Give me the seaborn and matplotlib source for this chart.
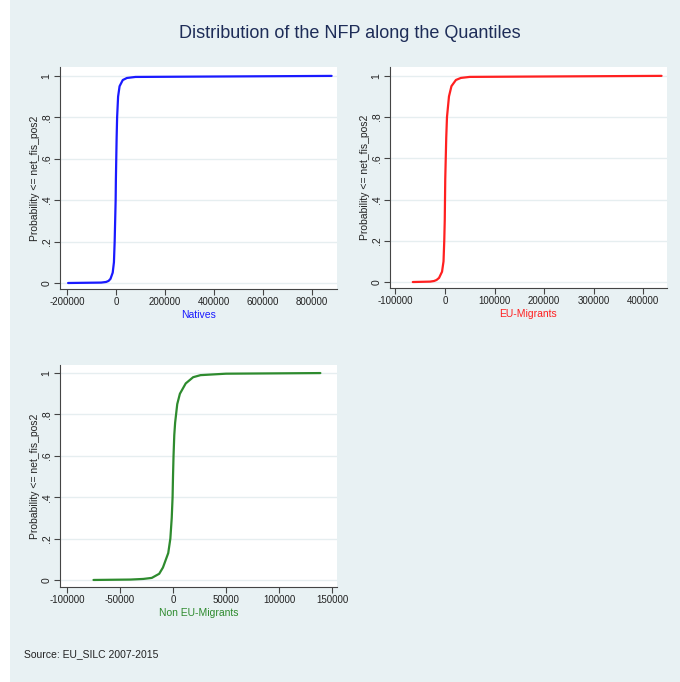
import numpy as np
import pandas as pd
import seaborn as sns
import matplotlib.pyplot as plt

# Cumulative probability levels and the net fiscal position at each level
natives_p = [0, 0.002, 0.005, 0.01, 0.02, 0.05, 0.1, 0.2, 0.3, 0.4, 0.5, 0.6, 0.7, 0.8, 0.9, 0.95,
             0.98, 0.99, 0.995, 1]
natives_x = [-195000, -60000, -40000, -30000, -22000, -13000, -8000, -5000, -3000, -1000, 0, 1500,
             3000, 5000, 9000, 15000, 28000, 45000, 80000, 880000]

eu_p = [0, 0.002, 0.005, 0.01, 0.02, 0.05, 0.1, 0.2, 0.3, 0.4, 0.5, 0.6, 0.7, 0.8, 0.9, 0.95,
        0.98, 0.99, 0.995, 1]
eu_x = [-65000, -30000, -22000, -17000, -12000, -6000, -3000, -1500, -500, 0, 500, 1500, 2500,
        4000, 8000, 13000, 22000, 32000, 50000, 437000]

noneu_p = [0, 0.002, 0.005, 0.01, 0.03, 0.06, 0.13, 0.2, 0.3, 0.4, 0.5, 0.6, 0.7, 0.76, 0.85, 0.9,
           0.95, 0.98, 0.99, 0.997, 1]
noneu_x = [-75000, -40000, -28000, -20000, -13000, -9500, -4500, -2500, -1200, -400, 0, 500, 1200,
           2000, 4000, 6500, 12000, 19000, 26000, 50000, 139000]

groups = ["Natives", "EU-Migrants", "Non EU-Migrants"]
colors = ["#1a1aff", "#ff2020", "#2e8b2e"]
xticks = [np.arange(-200000, 800001, 200000),
          np.arange(-100000, 400001, 100000),
          np.arange(-100000, 150001, 50000)]
xlims = [(-228000, 902000), (-111000, 448000), (-106600, 154700)]
ylims = [(-0.029, 1.043), (-0.029, 1.043), (-0.034, 1.039)]
yticks = [0, 0.2, 0.4, 0.6, 0.8, 1]
ytick_labels = ["0", ".2", ".4", ".6", ".8", "1"]

df = pd.concat([
    pd.DataFrame({"value": natives_x, "prob": natives_p, "group": "Natives"}),
    pd.DataFrame({"value": eu_x, "prob": eu_p, "group": "EU-Migrants"}),
    pd.DataFrame({"value": noneu_x, "prob": noneu_p, "group": "Non EU-Migrants"}),
])

sns.set_theme(style="white")
plt.rcParams['font.family'] = ['Liberation Sans', 'DejaVu Sans']

bg = "#e8f1f3"
fig = plt.figure(figsize=(6.8, 6.82), dpi=100, facecolor=bg)
# thin white strip on the left edge
fig.patches.append(plt.Rectangle((0, 0), 10 / 680, 1, transform=fig.transFigure,
                                 facecolor="white", edgecolor="none", zorder=0))

positions = [
    [60 / 680, 1 - 289 / 682, 277 / 680, 222 / 682],
    [390 / 680, 1 - 288 / 682, 277 / 680, 221 / 682],
    [60 / 680, 1 - 587 / 682, 277 / 680, 222 / 682],
]

for i, g in enumerate(groups):
    ax = fig.add_axes(positions[i])
    ax.set_facecolor("white")
    sub = df[df["group"] == g]
    for y in yticks:
        ax.axhline(y, color="#e6eef0", lw=1.0, zorder=0)
    sns.lineplot(data=sub, x="value", y="prob", ax=ax, color=colors[i], lw=1.6,
                 sort=False, estimator=None)
    ax.set_xlim(xlims[i])
    ax.set_ylim(ylims[i])
    ax.set_xticks(xticks[i])
    ax.set_xticklabels([str(int(t)) for t in xticks[i]], fontsize=7, color="#222222")
    ax.set_yticks(yticks)
    ax.set_yticklabels(ytick_labels, fontsize=7.5, color="#222222", rotation=90, va="center")
    ax.tick_params(axis="both", direction="out", length=4, width=0.8, color="#444444",
                   bottom=True, left=True, pad=2)
    for s in ["top", "right"]:
        ax.spines[s].set_visible(False)
    for s in ["left", "bottom"]:
        ax.spines[s].set_color("#444444")
        ax.spines[s].set_linewidth(0.8)
    ax.set_xlabel(g, fontsize=7.5, color=colors[i], labelpad=2)
    ax.set_ylabel("Probability <= net_fis_pos2", fontsize=7.5, color="#222222", labelpad=1)
    ax.yaxis.set_label_coords(-20 / 277, 0.5)

fig.text(350 / 680, 1 - 33 / 682, "Distribution of the NFP along the Quantiles",
         ha="center", va="center", fontsize=13, color="#1e2d58")
fig.text(24 / 680, 1 - 654 / 682, "Source: EU_SILC 2007-2015",
         ha="left", va="center", fontsize=7.5, color="#222222")

fig.savefig("out.png", dpi=100, facecolor=bg)
